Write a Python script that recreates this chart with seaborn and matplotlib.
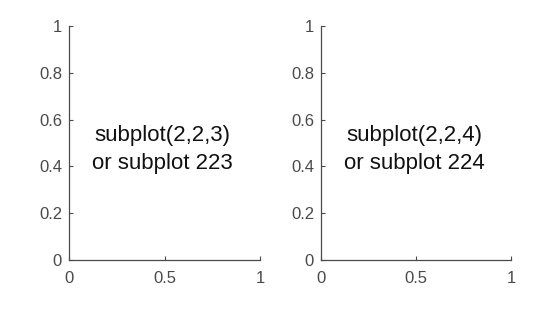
import matplotlib
matplotlib.use("Agg")
import matplotlib.pyplot as plt
import seaborn as sns

sns.set_theme(style="ticks")
plt.rcParams['font.family'] = ['Liberation Sans', 'DejaVu Sans']

labels = ["subplot(2,2,3)\nor subplot 223", "subplot(2,2,4)\nor subplot 224"]
xticks = [0, 0.5, 1]
xticklabels = ["0", "0.5", "1"]
yticks = [0, 0.2, 0.4, 0.6, 0.8, 1]
yticklabels = ["0", "0.2", "0.4", "0.6", "0.8", "1"]
text_pos = [(0.49, 0.472), (0.49, 0.472)]

fig = plt.figure(figsize=(5.54, 3.11), dpi=100)
W, H = 554, 311
boxes = [(69, 26, 260, 260), (321, 26, 511, 260)]
gray = '#4a4a4a'
for (x0, y0, x1, y1), lab, (tx, ty) in zip(boxes, labels, text_pos):
    ax = fig.add_axes([x0 / W, 1 - y1 / H, (x1 - x0) / W, (y1 - y0) / H])
    sns.despine(ax=ax)
    ax.set_xlim(0, 1)
    ax.set_ylim(0, 1)
    ax.set_xticks(xticks)
    ax.set_xticklabels(xticklabels)
    ax.set_yticks(yticks)
    ax.set_yticklabels(yticklabels)
    ax.tick_params(direction='in', length=3, width=0.8, colors=gray,
                   labelsize=12, labelcolor=gray)
    ax.tick_params(axis='x', pad=8)
    ax.tick_params(axis='y', pad=5)
    for s in ['left', 'bottom']:
        ax.spines[s].set_color(gray)
        ax.spines[s].set_linewidth(0.9)
    ax.text(tx, ty, lab, ha='center', va='center', fontsize=16,
            linespacing=1.45, color='#111111')

fig.savefig("out.png", dpi=100)
